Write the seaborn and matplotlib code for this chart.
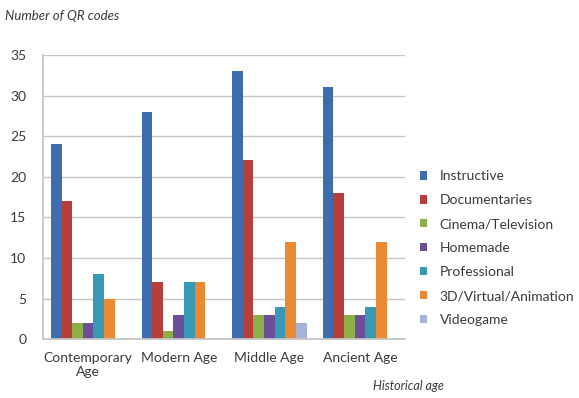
import matplotlib
matplotlib.use("Agg")
import matplotlib.pyplot as plt
import seaborn as sns
import pandas as pd

# Number of QR codes per historical age and content type
ages = ["Contemporary\nAge", "Modern Age", "Middle Age", "Ancient Age"]
types = ["Instructive", "Documentaries", "Cinema/Television", "Homemade",
         "Professional", "3D/Virtual/Animation", "Videogame"]
instructive = [24, 28, 33, 31]
documentaries = [17, 7, 22, 18]
cinema_tv = [2, 1, 3, 3]
homemade = [2, 3, 3, 3]
professional = [8, 7, 4, 4]
animation = [5, 7, 12, 12]
videogame = [0, 0, 2, 0]

series = [instructive, documentaries, cinema_tv, homemade,
          professional, animation, videogame]
rows = []
for t, vals in zip(types, series):
    for a, v in zip(ages, vals):
        rows.append({"age": a, "type": t, "count": v})
df = pd.DataFrame(rows)

colors = ["#3E6DAF", "#B73E3B", "#8CAF47", "#6B4F99",
          "#3799B6", "#E98A32", "#A7B2DA"]

sns.set_theme(style="white")
plt.rcParams["font.family"] = ["Lato", "DejaVu Sans"]

fig = plt.figure(figsize=(5.79, 3.98), dpi=100)
ax = fig.add_axes([0.074, 0.148, 0.626, 0.714])

sns.barplot(data=df, x="age", y="count", hue="type", hue_order=types,
            order=ages, palette=colors, width=0.82, saturation=1,
            edgecolor="none", ax=ax, legend=True)

ax.set_ylim(0, 35)
ax.set_xlim(-0.5, 3.5)
ax.set_yticks(range(0, 36, 5))
ax.yaxis.grid(True, color="#C4C4C4", linewidth=1.0)
ax.set_axisbelow(True)
for side in ["top", "right"]:
    ax.spines[side].set_visible(False)
ax.spines["left"].set_color("#C4C4C4")
ax.spines["bottom"].set_color("#C4C4C4")
ax.tick_params(axis="y", labelsize=10, colors="#3A3A3A", length=0, pad=12)
ax.tick_params(axis="x", labelsize=10, colors="#3A3A3A", length=0, pad=9)
ax.set_xticks([-0.5, 0.5, 1.5, 2.5, 3.5], minor=True)
ax.tick_params(axis="x", which="minor", length=4, color="#C4C4C4",
               direction="out")
ax.set_xlabel("")
ax.set_ylabel("")

fig.text(0.008, 0.960, "Number of QR codes", fontsize=9.5, style="italic",
         color="#3A3A3A", va="center", ha="left")
fig.text(0.645, 0.030, "Historical age", fontsize=9, style="italic",
         color="#3A3A3A", va="center", ha="left")

leg = ax.legend(loc="center left", bbox_to_anchor=(1.005, 0.32),
                frameon=False, fontsize=10, handlelength=0.55,
                handleheight=0.55, handletextpad=0.9, labelspacing=0.86)
for txt in leg.get_texts():
    txt.set_color("#3A3A3A")

fig.savefig("out.png", dpi=100)
